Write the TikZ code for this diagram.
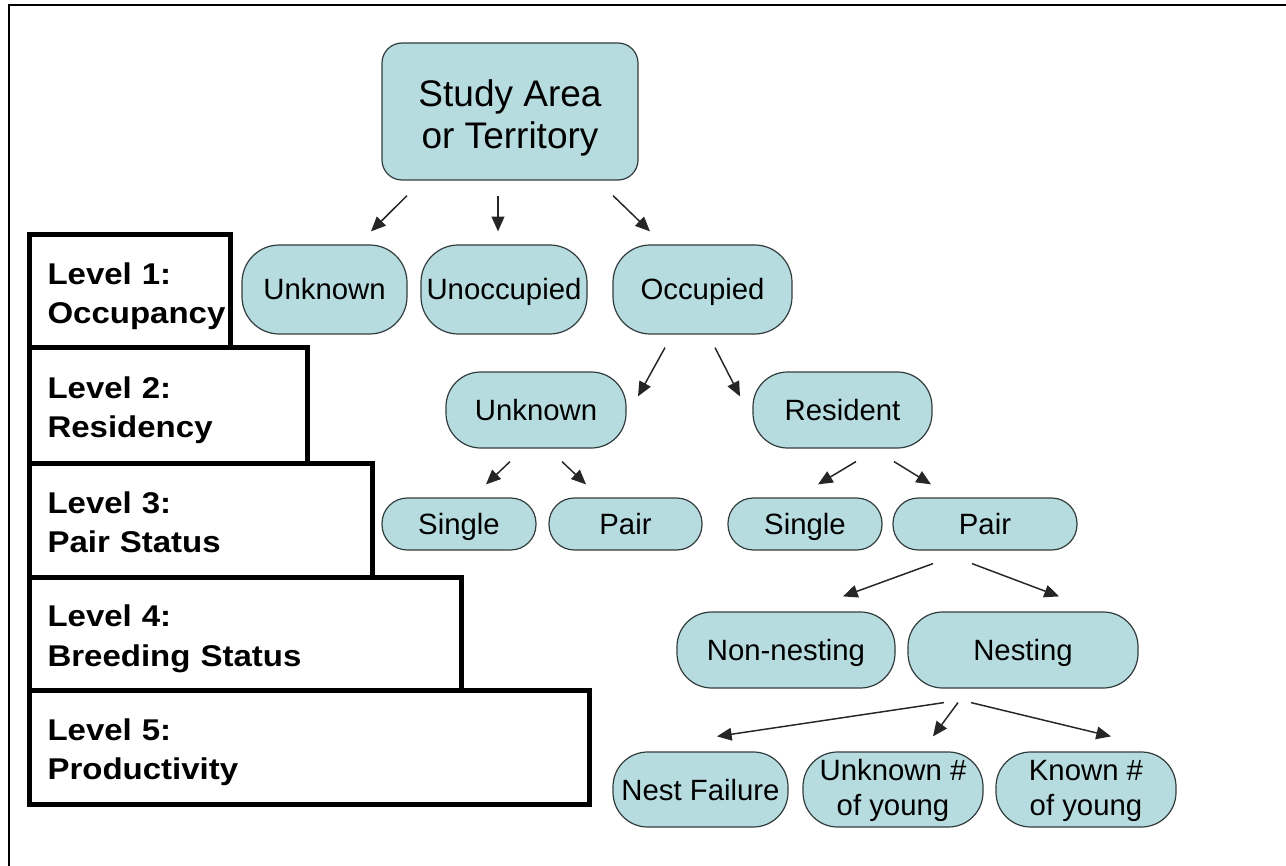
\documentclass[tikz,border=0pt]{standalone}
\usepackage{fontspec}
\setmainfont{Liberation Sans}
\newfontfamily\lvlfont{Liberation Sans}[FakeStretch=1.1]
\usetikzlibrary{arrows.meta}
\definecolor{nodeblue}{RGB}{182,220,224}
\definecolor{edgegray}{RGB}{50,60,60}
\newcommand{\lvltop}{\rule{0pt}{24pt}}
\newcommand{\lvlbot}{\rule[-5pt]{0pt}{0pt}}
\begin{document}
\begin{tikzpicture}[x=0.75pt,y=-0.75pt,
  blob/.style={draw=edgegray, line width=0.9pt, fill=nodeblue, inner sep=0pt, align=center,
    font=\fontsize{22}{22.5}\selectfont},
  sl/.style={text height=15.75pt, text depth=0pt},
  lvl/.style={draw=black, line width=3.75pt, fill=white, inner xsep=13.9pt, inner ysep=0pt,
    align=left, anchor=north west, font=\lvlfont\bfseries\fontsize{22.5}{29.5}\selectfont},
  arr/.style={-{Triangle[length=11pt,width=9.5pt]}, line width=1.1pt, black!85},
]
\useasboundingbox (0,0) rectangle (1286,866);
\fill[white] (0,0) rectangle (1286,866);
% outer frame (only top and left visible)
\draw[line width=1.6pt] (9,866) -- (9,5) -- (1286,5);

% level boxes
\node[lvl, minimum width=150.75pt, minimum height=84.75pt, text width=122.95pt] (lv1) at (26.5,232.5) {\lvltop Level 1:\\Occupancy\lvlbot};
\node[lvl, minimum width=208.5pt, minimum height=86.25pt, text width=180.7pt] (lv2) at (26.5,345.5) {\lvltop Level 2:\\Residency\lvlbot};
\node[lvl, minimum width=257.25pt, minimum height=85.5pt, text width=229.45pt] (lv3) at (26.5,460.5) {\lvltop Level 3:\\Pair Status\lvlbot};
\node[lvl, minimum width=324.375pt, minimum height=85.125pt, text width=296.6pt] (lv4) at (26.5,574.5) {\lvltop Level 4:\\Breeding Status\lvlbot};
\node[lvl, minimum width=420.375pt, minimum height=85.125pt, text width=392.6pt] (lv5) at (26.5,688) {\lvltop Level 5:\\Productivity\lvlbot};

% tree nodes
\node[blob, minimum width=192pt, minimum height=102.75pt, rounded corners=15pt,
  font=\fontsize{27.75}{31.5}\selectfont] (root) at (510,111.5) {\rule{0pt}{29.6pt}Study Area\\or Territory};

\node[blob, sl, minimum width=123.75pt, minimum height=66.75pt, rounded corners=28pt] (unk1) at (324.5,289.5) {Unknown};
\node[blob, sl, minimum width=124.5pt, minimum height=66.75pt, rounded corners=28pt] (unocc) at (504,289.5) {Unoccupied};
\node[blob, sl, minimum width=134.25pt, minimum height=66.75pt, rounded corners=28pt] (occ) at (702.5,289.5) {Occupied};

\node[blob, sl, minimum width=135pt, minimum height=57pt, rounded corners=26pt] (unk2) at (536,410) {Unknown};
\node[blob, sl, minimum width=134.25pt, minimum height=57pt, rounded corners=26pt] (res) at (842.5,410) {Resident};

\node[blob, sl, minimum width=115.5pt, minimum height=39pt, rounded corners=19pt] (sing1) at (459,524) {Single};
\node[blob, sl, minimum width=114.75pt, minimum height=39pt, rounded corners=19pt] (pair1) at (625.5,524) {Pair};
\node[blob, sl, minimum width=115.5pt, minimum height=39pt, rounded corners=19pt] (sing2) at (805,524) {Single};
\node[blob, sl, minimum width=138pt, minimum height=39pt, rounded corners=19pt] (pair2) at (985,524) {Pair};

\node[blob, sl, minimum width=163.5pt, minimum height=57pt, rounded corners=26pt] (nonnest) at (786,650) {Non-nesting};
\node[blob, sl, minimum width=172.5pt, minimum height=57pt, rounded corners=26pt] (nest) at (1023,650) {Nesting};

\node[blob, sl, minimum width=131.25pt, minimum height=56.25pt, rounded corners=26pt] (fail) at (700.5,789.5) {Nest Failure};
\node[blob, minimum width=135pt, minimum height=56.25pt, rounded corners=26pt,
  font=\fontsize{22}{26}\selectfont] (unkyoung) at (893,789.5) {\rule{0pt}{17.5pt}Unknown \#\\of young};
\node[blob, minimum width=135pt, minimum height=56.25pt, rounded corners=26pt,
  font=\fontsize{22}{26}\selectfont] (knownyoung) at (1086,789.5) {\rule{0pt}{17.5pt}Known \#\\of young};

% arrows
\draw[arr] ([shift={(-103,15)}]root.south) -- ([shift={(46.5,-13)}]unk1.north);
\draw[arr] ([shift={(-12,15)}]root.south) -- ([shift={(-6,-13)}]unocc.north);
\draw[arr] ([shift={(103,15)}]root.south) -- ([shift={(-52.5,-13)}]occ.north);

\draw[arr] ([shift={(-37.5,13)}]occ.south) -- ([shift={(102,25)}]unk2.north);
\draw[arr] ([shift={(12.5,13)}]occ.south) -- ([shift={(-102.5,25)}]res.north);

\draw[arr] ([shift={(-26,13)}]unk2.south) -- ([shift={(27,-13)}]sing1.north);
\draw[arr] ([shift={(26,13)}]unk2.south) -- ([shift={(-39.5,-13)}]pair1.north);
\draw[arr] ([shift={(13.5,13)}]res.south) -- ([shift={(13,-13)}]sing2.north);
\draw[arr] ([shift={(51.5,13)}]res.south) -- ([shift={(-54,-13)}]pair2.north);

\draw[arr] ([shift={(-52,13)}]pair2.south) -- ([shift={(57,-15)}]nonnest.north);
\draw[arr] ([shift={(-13,13)}]pair2.south) -- ([shift={(36,-15)}]nest.north);

\draw[arr] ([shift={(-79,14)}]nest.south) -- ([shift={(16.5,-15)}]fail.north);
\draw[arr] ([shift={(-65,14)}]nest.south) -- ([shift={(40,-15)}]unkyoung.north);
\draw[arr] ([shift={(-52,14)}]nest.south) -- ([shift={(25,-15)}]knownyoung.north);
\end{tikzpicture}
\end{document}
